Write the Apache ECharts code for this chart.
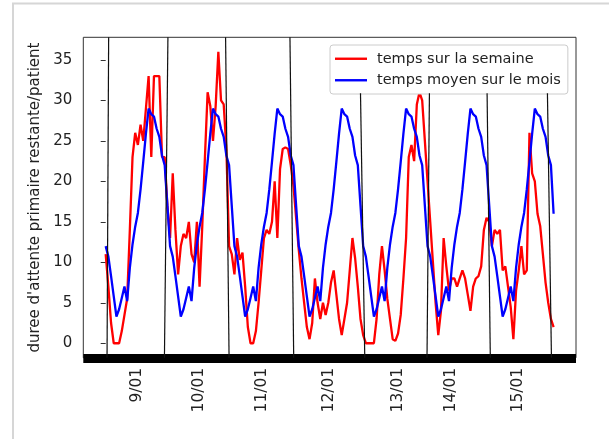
<!DOCTYPE html>
<html>
<head>
<meta charset="utf-8">
<script src="https://cdn.jsdelivr.net/npm/echarts@6/dist/echarts.min.js"></script>
<style>
html,body{margin:0;padding:0;background:#fff;}
#chart{width:609px;height:439px;}
</style>
</head>
<body>
<div id="chart"></div>
<script>
// ---- data (hourly, 7 days) ----
const seriesNames = ['temps sur la semaine', 'temps moyen sur le mois'];
const tickLabels = ['9/01', '10/01', '11/01', '12/01', '13/01', '14/01', '15/01'];
const tickHours = [11.7, 34.6, 58.4, 83.2, 108.9, 128.9, 153.8];
const yTicks = [0, 5, 10, 15, 20, 25, 30, 35];
const yName = "duree d'attente primaire restante/patient";

const weekValues = [
  11, 7, 2.5, 0, 0, 0, 1.5, 3.5, 5.5, 14, 23, 26, 24.5, 27, 25, 29, 33, 23, 33, 33, 33, 23, 23, 17,
  13, 21, 14, 8.5, 12, 13.5, 13, 15, 11, 10, 15, 7, 14.4, 23, 31, 29.3, 25, 29.3, 36, 30, 29.5, 24, 12, 11,
  8.5, 13, 10.3, 11.2, 7, 2, 0, 0, 1.5, 5, 9, 13, 14, 13.5, 15, 20, 13, 21.5, 24, 24.2, 24, 22, 19.5, 15.5,
  11.5, 8, 5, 2, 0.5, 2.5, 8, 5, 3, 5, 3.5, 5, 7.5, 9, 6, 3, 1, 3, 5, 9, 13, 10.5, 7, 3,
  1, 0, 0, 0, 0, 3, 8.5, 12, 9, 5.5, 3, 0.5, 0.3, 1.2, 3.5, 8, 13, 23, 24.5, 22.5, 29.5, 31, 30, 25,
  20, 15, 10, 5, 1, 4, 13, 9.5, 6.5, 8, 8, 7, 8, 9, 8, 6, 4, 7, 8, 8.3, 9.5, 14, 15.5, 15,
  12, 14, 13.5, 14, 9, 9.5, 7, 4.5, 0.5, 6.5, 9, 12, 8.5, 9, 26, 21, 20, 16, 14.5, 11, 7.5, 5, 3, 2
];

const monthValues = [
  12, 10.7, 8.3, 5.8, 3.3, 4.2, 5.6, 7, 5.2, 9.3, 12.2, 14.4, 16.1, 19, 22.4, 25.9, 29, 28.3, 28, 26.5, 25.5, 23.2, 22, 17,
  12, 10.7, 8.3, 5.8, 3.3, 4.2, 5.6, 7, 5.2, 9.3, 12.2, 14.4, 16.1, 19, 22.4, 25.9, 29, 28.3, 28, 26.5, 25.5, 23.2, 22, 17,
  12, 10.7, 8.3, 5.8, 3.3, 4.2, 5.6, 7, 5.2, 9.3, 12.2, 14.4, 16.1, 19, 22.4, 25.9, 29, 28.3, 28, 26.5, 25.5, 23.2, 22, 17,
  12, 10.7, 8.3, 5.8, 3.3, 4.2, 5.6, 7, 5.2, 9.3, 12.2, 14.4, 16.1, 19, 22.4, 25.9, 29, 28.3, 28, 26.5, 25.5, 23.2, 22, 17,
  12, 10.7, 8.3, 5.8, 3.3, 4.2, 5.6, 7, 5.2, 9.3, 12.2, 14.4, 16.1, 19, 22.4, 25.9, 29, 28.3, 28, 26.5, 25.5, 23.2, 22, 17,
  12, 10.7, 8.3, 5.8, 3.3, 4.2, 5.6, 7, 5.2, 9.3, 12.2, 14.4, 16.1, 19, 22.4, 25.9, 29, 28.3, 28, 26.5, 25.5, 23.2, 22, 17,
  12, 10.7, 8.3, 5.8, 3.3, 4.2, 5.6, 7, 5.2, 9.3, 12.2, 14.4, 16.1, 19, 22.4, 25.9, 29, 28.3, 28, 26.5, 25.5, 23.2, 22, 16
];

// hand-drawn vertical separators (hour at top, hour at bottom, value at top)
const dividerTopHours = [1.1, 23.2, 44.7, 68.7, 95.0, 120.7, 142.2, 164.7];
const dividerBottomHours = [0.5, 21.9, 46.0, 70.1, 96.6, 119.8, 143.4, 166.2];
const dividerTopValues = [37.8, 37.8, 37.8, 37.8, 30.9, 30.9, 30.9, 30.9];

const X_MIN = -8.35, X_MAX = 175.35, Y_MIN = -1.8, Y_MAX = 37.8;
const FONT = 'DejaVu Sans';
const FS = 15;

const chart = echarts.init(document.getElementById('chart'), null, {renderer: 'canvas'});

const toPairs = arr => arr.map((v, i) => [i, v]);
const dividers = dividerTopHours.map((h, i) => [
  {coord: [h, dividerTopValues[i]]},
  {coord: [dividerBottomHours[i], Y_MIN]}
]);

chart.setOption({
  animation: false,
  backgroundColor: '#fff',
  graphic: [
    {type: 'line', shape: {x1: 12, y1: 3.5, x2: 609, y2: 3.5}, style: {stroke: '#d6d6d6', lineWidth: 2}, silent: true},
    {type: 'line', shape: {x1: 13, y1: 3.5, x2: 13, y2: 439}, style: {stroke: '#d6d6d6', lineWidth: 2}, silent: true}
  ],
  grid: {
    left: 83.3, top: 37.3, right: 33, bottom: 81.2,
    show: true, borderColor: '#333', borderWidth: 1, backgroundColor: 'transparent'
  },
  legend: {
    orient: 'vertical',
    left: 330, top: 45,
    data: seriesNames,
    icon: 'rect',
    itemWidth: 32, itemHeight: 2.4,
    itemGap: 4,
    padding: [5, 7, 5, 5],
    backgroundColor: '#fff',
    borderColor: '#cccccc', borderWidth: 1, borderRadius: 3,
    textStyle: {fontFamily: FONT, fontSize: 14.5, color: '#222', lineHeight: 17.5, padding: [0, 0, 0, 5]}
  },
  xAxis: {
    type: 'value', min: X_MIN, max: X_MAX,
    splitLine: {show: false},
    axisTick: {show: false},
    axisLine: {show: true, onZero: false, lineStyle: {color: '#000', width: 9, cap: 'butt'}},
    axisLabel: {
      customValues: tickHours,
      formatter: v => { const i = tickHours.indexOf(v); return i >= 0 ? tickLabels[i] : ''; },
      rotate: 90, fontFamily: FONT, fontSize: 15.5, color: '#222', margin: 10
    }
  },
  yAxis: {
    type: 'value', min: Y_MIN, max: Y_MAX,
    splitLine: {show: false},
    axisLine: {show: false},
    axisTick: {show: true, customValues: yTicks, length: 5, lineStyle: {color: '#333', width: 1}},
    axisLabel: {customValues: yTicks, fontFamily: FONT, fontSize: FS, color: '#222', margin: 11},
    name: yName, nameLocation: 'middle', nameRotate: 90, nameGap: 35,
    nameTextStyle: {fontFamily: FONT, fontSize: FS, color: '#222'}
  },
  series: [
    {
      name: seriesNames[0], type: 'line', data: toPairs(weekValues),
      showSymbol: false, symbol: 'none', color: '#ff0000',
      lineStyle: {color: '#ff0000', width: 2.3}, z: 3
    },
    {
      name: seriesNames[1], type: 'line', data: toPairs(monthValues),
      showSymbol: false, symbol: 'none', color: '#0000ff',
      lineStyle: {color: '#0000ff', width: 2.3}, z: 4
    },
    {
      name: 'separateurs', type: 'line', data: [], z: 5, silent: true,
      markLine: {
        silent: true, symbol: 'none', animation: false,
        label: {show: false},
        lineStyle: {color: '#111', width: 1.2, type: 'solid'},
        data: dividers
      }
    }
  ]
});
</script>
</body>
</html>
